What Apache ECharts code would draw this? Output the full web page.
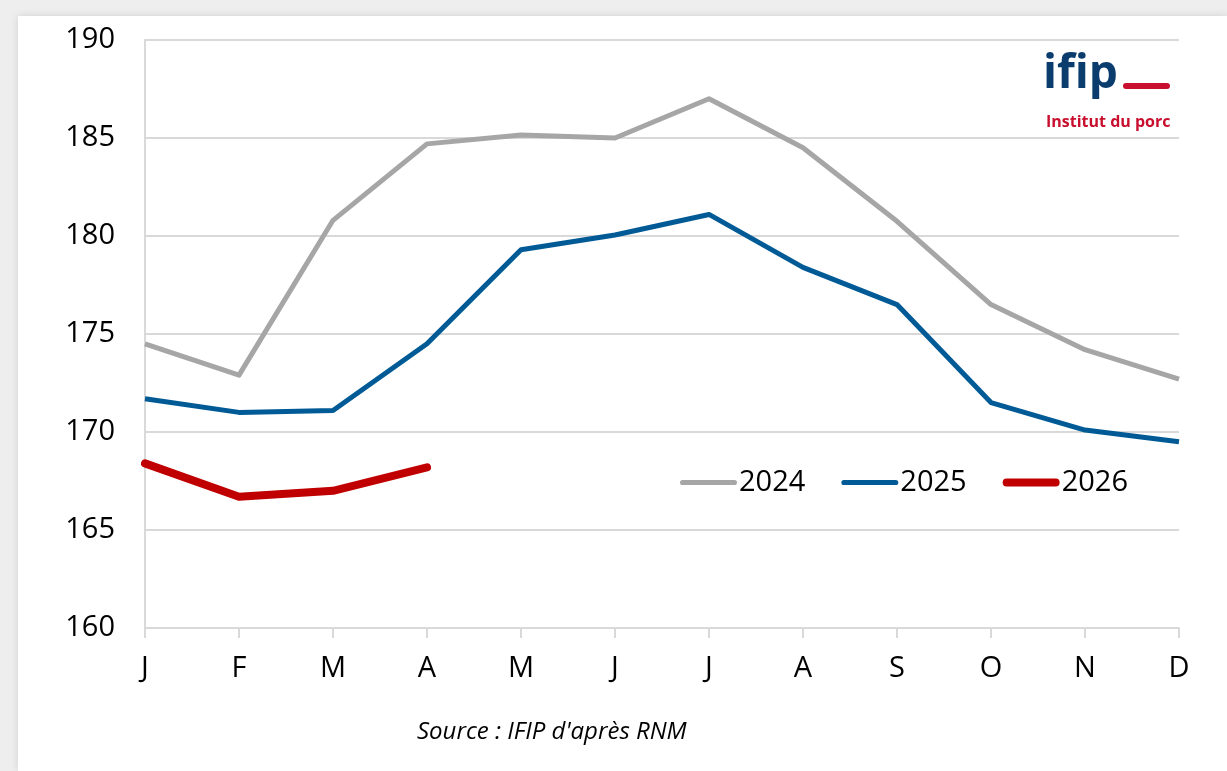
<!DOCTYPE html>
<html>
<head>
<meta charset="utf-8">
<script src="https://cdn.jsdelivr.net/npm/echarts@6/dist/echarts.min.js"></script>
<style>
  html, body { margin: 0; padding: 0; width: 1227px; height: 771px; overflow: hidden; background: #eeeeee; }
  #panel { position: absolute; left: 18px; top: 16px; right: 0; bottom: 0; background: #ffffff; box-shadow: 0 0 8px rgba(0,0,0,0.12); }
  #chart { position: absolute; left: 0; top: 0; width: 1227px; height: 771px; }
</style>
</head>
<body>
<div id="panel"></div>
<div id="chart"></div>
<script>
const months = ['J', 'F', 'M', 'A', 'M', 'J', 'J', 'A', 'S', 'O', 'N', 'D'];
const seriesNames = ['2024', '2025', '2026'];
const values2024 = [174.5, 172.9, 180.8, 184.7, 185.15, 185.0, 187.0, 184.5, 180.75, 176.5, 174.2, 172.7];
const values2025 = [171.7, 171.0, 171.1, 174.5, 179.3, 180.05, 181.1, 178.4, 176.5, 171.5, 170.1, 169.5];
const values2026 = [168.4, 166.7, 167.0, 168.2];
const yMin = 160, yMax = 190, yStep = 5;
const sourceText = "Source : IFIP d'après RNM";

const FONT = '"Open Sans", sans-serif';
const thinIcon = 'path://M2.5,0 H53.5 A2.5,2.5 0 0 1 53.5,5 H2.5 A2.5,2.5 0 0 1 2.5,0 Z';
const thickIcon = 'path://M4,0 H54 A4,4 0 0 1 54,8 H4 A4,4 0 0 1 4,0 Z';

const chart = echarts.init(document.getElementById('chart'), null, { renderer: 'canvas' });
chart.setOption({
  backgroundColor: 'transparent',
  animation: false,
  grid: { left: 145, right: 48, top: 40, bottom: 143, containLabel: false },
  xAxis: {
    type: 'category',
    data: months,
    boundaryGap: false,
    axisLine: { show: true, lineStyle: { color: '#d9d9d9', width: 2 } },
    axisTick: { show: true, alignWithLabel: true, length: 10, lineStyle: { color: '#d9d9d9', width: 2 } },
    axisLabel: { color: '#000', fontSize: 29, fontFamily: FONT, margin: 26, interval: 0 },
    splitLine: { show: false }
  },
  yAxis: {
    type: 'value',
    min: yMin, max: yMax, interval: yStep,
    axisLine: { show: true, lineStyle: { color: '#d9d9d9', width: 2 } },
    axisTick: { show: false },
    axisLabel: { color: '#000', fontSize: 29, fontFamily: FONT, margin: 30 },
    splitLine: { show: true, lineStyle: { color: '#d9d9d9', width: 2 } }
  },
  legend: {
    left: 675, top: 463,
    itemWidth: 57, itemHeight: 30, itemGap: 36,
    symbolKeepAspect: true,
    textStyle: { color: '#000', fontSize: 29, fontFamily: FONT, padding: [0, 0, 0, -3] },
    data: [
      { name: seriesNames[0], icon: thinIcon },
      { name: seriesNames[1], icon: thinIcon },
      { name: seriesNames[2], icon: thickIcon }
    ]
  },
  series: [
    { name: seriesNames[0], type: 'line', data: values2024, symbol: 'none', showSymbol: false,
      lineStyle: { color: '#A6A6A6', width: 5, join: 'round' }, itemStyle: { color: '#A6A6A6' } },
    { name: seriesNames[1], type: 'line', data: values2025, symbol: 'none', showSymbol: false,
      lineStyle: { color: '#005A96', width: 5, join: 'round' }, itemStyle: { color: '#005A96' } },
    { name: seriesNames[2], type: 'line', data: values2026, symbol: 'none', showSymbol: false,
      lineStyle: { color: '#C00000', width: 8, cap: 'round', join: 'round' }, itemStyle: { color: '#C00000' } }
  ],
  graphic: [
    { type: 'text', left: 1043, top: 52,
      style: { text: 'ifip', fill: '#0B3C6E', font: 'bold 46px "Open Sans", sans-serif' } },
    { type: 'rect', shape: { x: 1123, y: 83, width: 47, height: 6, r: 3 }, style: { fill: '#C8102E' } },
    { type: 'text', left: 1046, top: 114,
      style: { text: 'Institut du porc', fill: '#C8102E', font: 'bold 16px "Open Sans", sans-serif' } },
    { type: 'text', left: 417, top: 720,
      style: { text: sourceText, fill: '#000', font: 'italic 24px "Open Sans", sans-serif' } }
  ]
});
</script>
</body>
</html>
